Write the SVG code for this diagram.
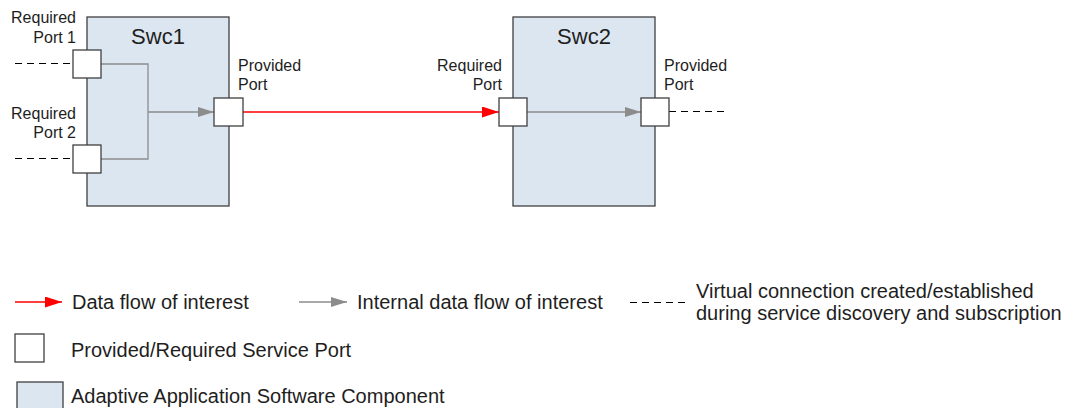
<svg xmlns="http://www.w3.org/2000/svg" width="1065" height="408" viewBox="0 0 1065 408">
<defs>
<style>
.swc{fill:#dce6f0;stroke:#3f3f3f;stroke-width:1.3}
.port{fill:#ffffff;stroke:#3f3f3f;stroke-width:1.3}
.t{font-family:"Liberation Sans",Arial,sans-serif;fill:#1e1e1e}
.lbl{font-size:16px}
.title{font-size:22px}
.leg{font-size:20px}
.red{stroke:#ff0000;stroke-width:1.3;fill:none}
.gray{stroke:#8c8c8c;stroke-width:1.3;fill:none}
.dash{stroke:#000;stroke-width:1.2;stroke-dasharray:7,5;fill:none}
</style>
<marker id="ar" markerUnits="userSpaceOnUse" markerWidth="17" markerHeight="11" refX="17" refY="5.5" orient="auto"><path d="M0,0 L17,5.5 L0,11 Z" fill="#ff0000"/></marker>
<marker id="ag" markerUnits="userSpaceOnUse" markerWidth="16" markerHeight="10" refX="16" refY="5" orient="auto"><path d="M0,0 L16,5 L0,10 Z" fill="#8c8c8c"/></marker>
</defs>
<g id="swc1">
<rect class="swc" x="87" y="17" width="142" height="189"/>
<text class="t title" x="158" y="44" text-anchor="middle">Swc1</text>
</g>
<g id="swc2">
<rect class="swc" x="513" y="17" width="142" height="189"/>
<text class="t title" x="584" y="44" text-anchor="middle">Swc2</text>
</g>
<g id="connectors">
<path class="gray" d="M101,64 H148 V159 H101"/>
<path class="gray" d="M148,112 H214" marker-end="url(#ag)"/>
<path class="red" d="M243,112 H499" marker-end="url(#ar)"/>
<path class="gray" d="M527,112 H641" marker-end="url(#ag)"/>
<path class="dash" d="M15,63.5 H73"/>
<path class="dash" d="M15,158.5 H73"/>
<path class="dash" d="M669,111.5 H724"/>
</g>
<g id="swc1-req1">
<rect class="port" x="73" y="50" width="28" height="28"/>
<text class="t lbl" text-anchor="end"><tspan x="76" y="23">Required</tspan><tspan x="76" y="43">Port 1</tspan></text>
</g>
<g id="swc1-req2">
<rect class="port" x="73" y="145" width="28" height="28"/>
<text class="t lbl" text-anchor="end"><tspan x="76" y="119">Required</tspan><tspan x="76" y="138">Port 2</tspan></text>
</g>
<g id="swc1-prov">
<rect class="port" x="214" y="98" width="29" height="28"/>
<text class="t lbl"><tspan x="238" y="71">Provided</tspan><tspan x="238" y="90">Port</tspan></text>
</g>
<g id="swc2-req">
<rect class="port" x="499" y="98" width="28" height="28"/>
<text class="t lbl" text-anchor="end"><tspan x="502" y="71">Required</tspan><tspan x="502" y="90">Port</tspan></text>
</g>
<g id="swc2-prov">
<rect class="port" x="641" y="98" width="28" height="28"/>
<text class="t lbl"><tspan x="664" y="71">Provided</tspan><tspan x="664" y="90">Port</tspan></text>
</g>
<g id="legend">
<path class="red" d="M15,302 H62" marker-end="url(#ar)"/>
<text class="t leg" x="72" y="309">Data flow of interest</text>
<path class="gray" d="M299,302 H347" marker-end="url(#ag)"/>
<text class="t leg" x="357" y="309">Internal data flow of interest</text>
<path class="dash" d="M630,302.5 H685"/>
<text class="t leg"><tspan x="696" y="298">Virtual connection created/established</tspan><tspan x="696" y="320">during service discovery and subscription</tspan></text>
<rect class="port" x="15" y="334" width="29" height="28"/>
<text class="t leg" x="71" y="357">Provided/Required Service Port</text>
<rect class="swc" x="17" y="382" width="46" height="40"/>
<text class="t leg" x="71" y="403">Adaptive Application Software Component</text>
</g>
</svg>
